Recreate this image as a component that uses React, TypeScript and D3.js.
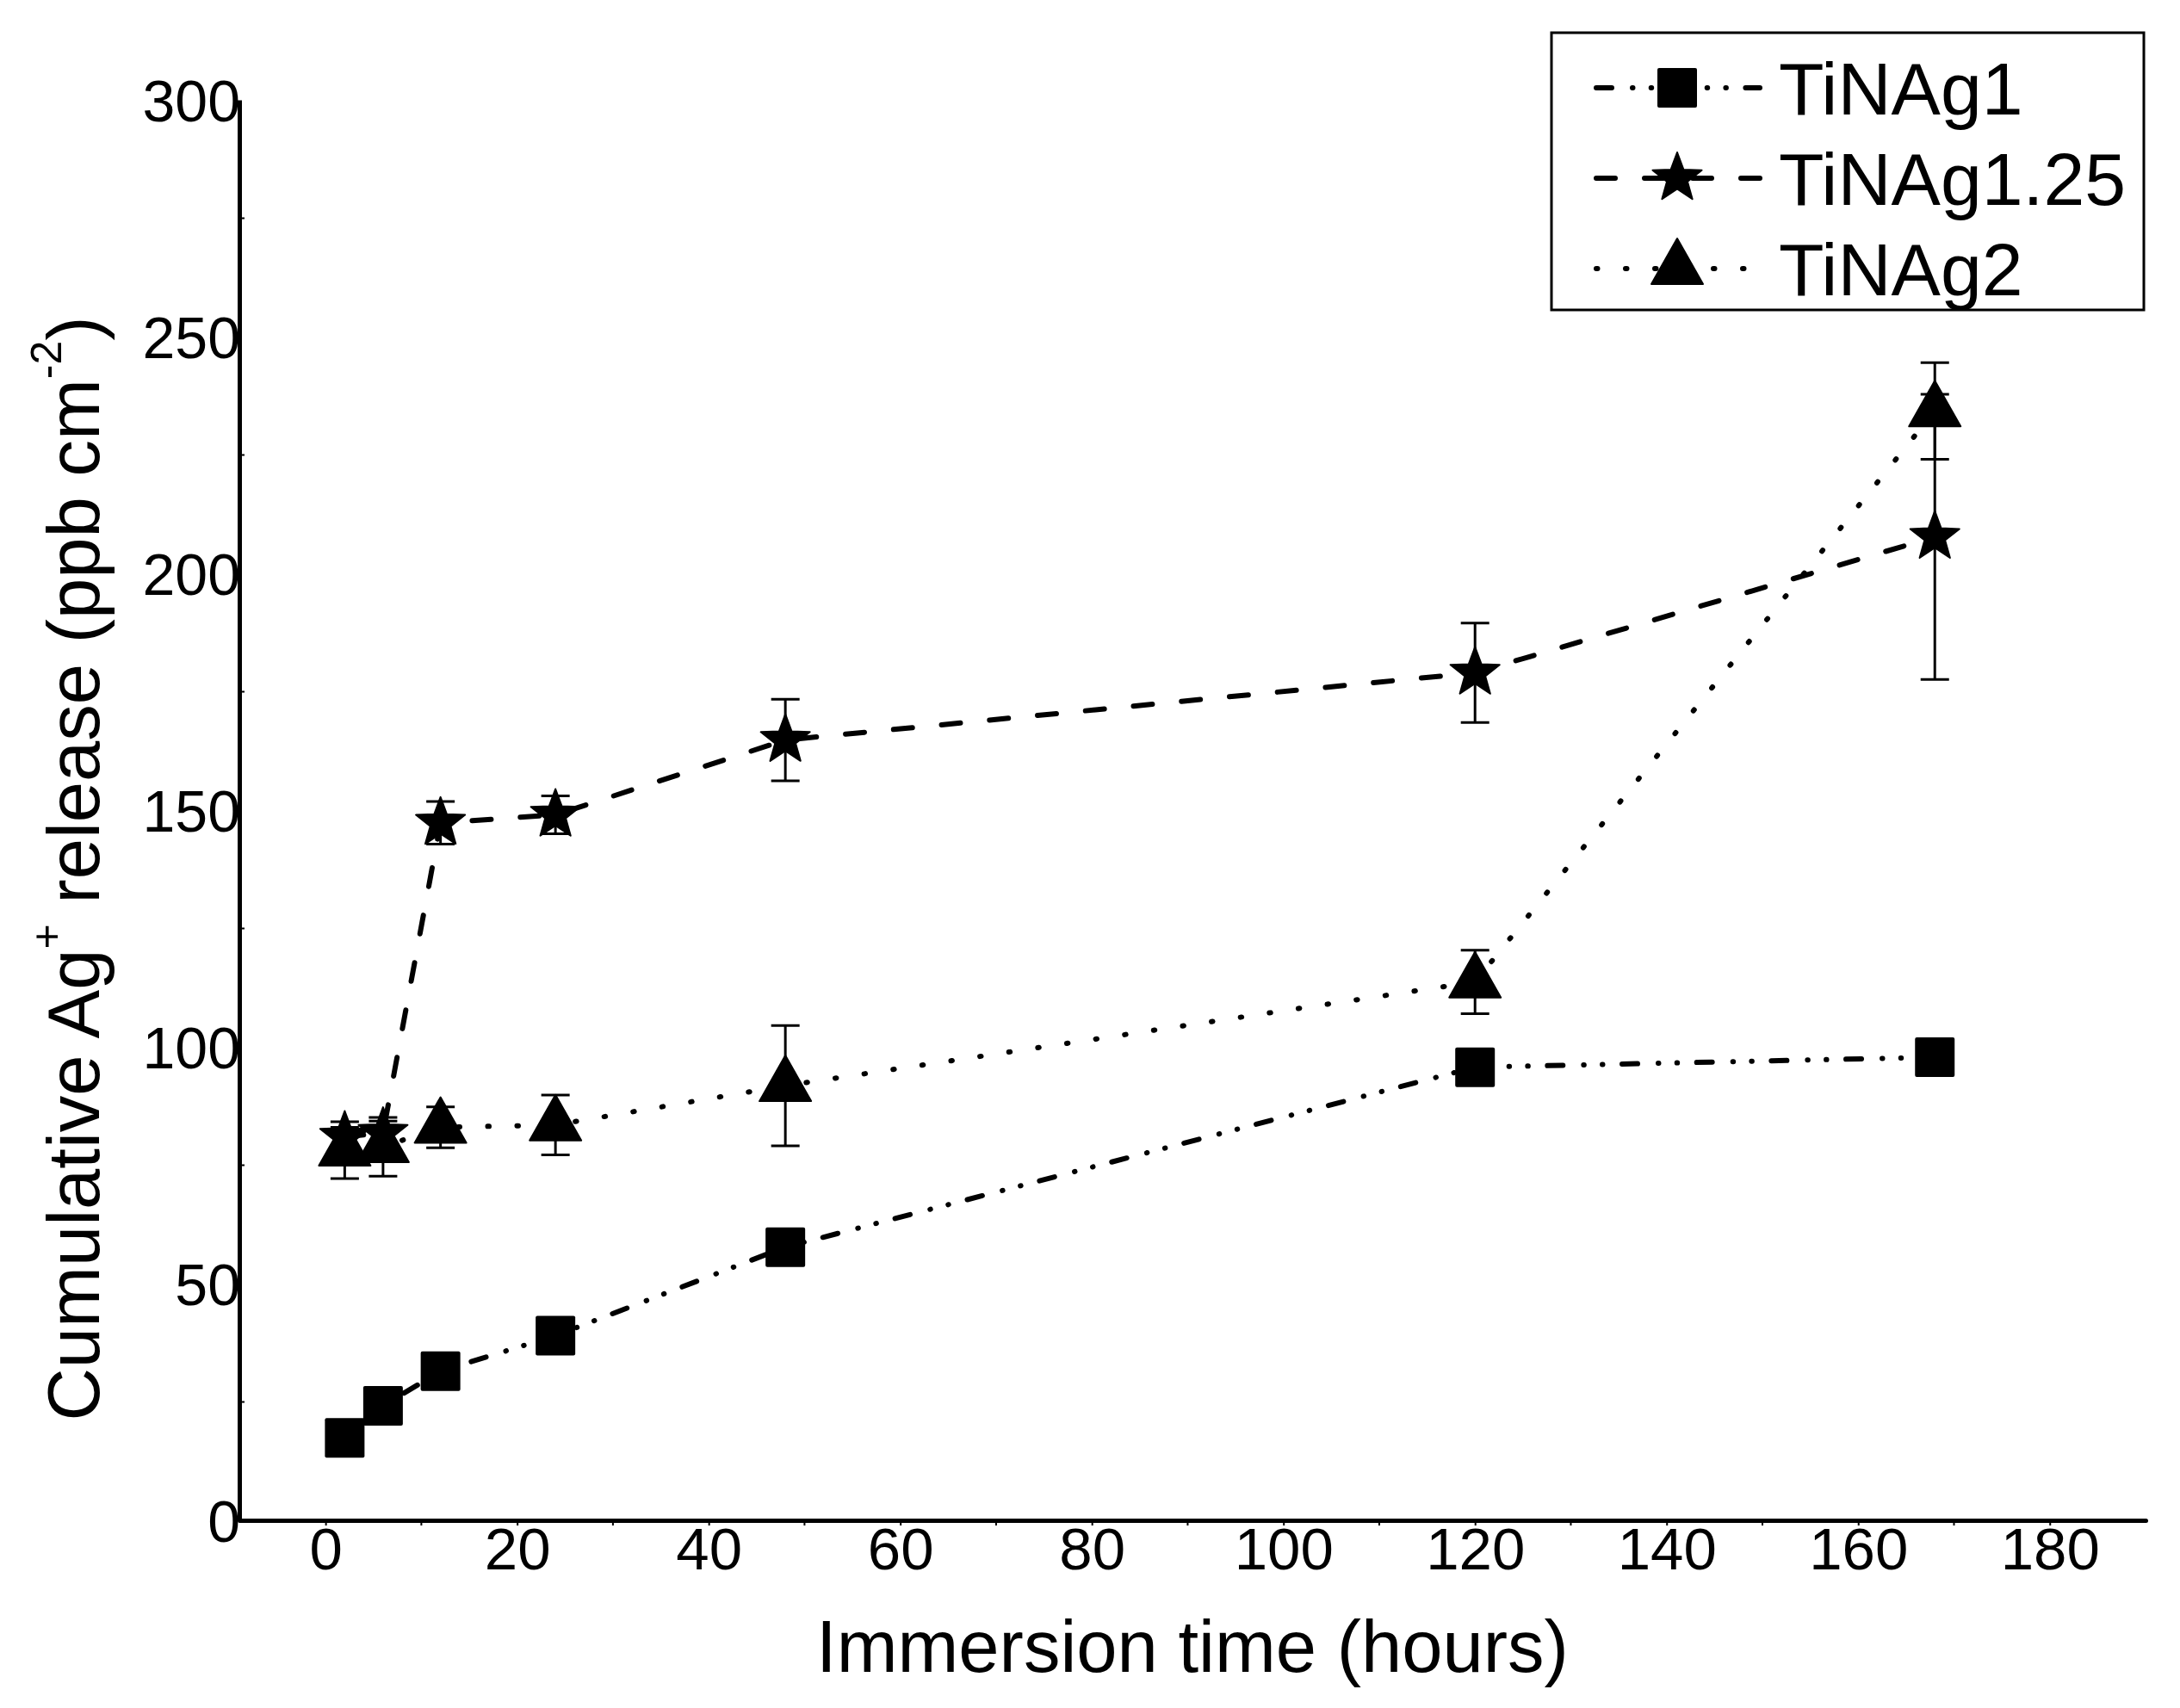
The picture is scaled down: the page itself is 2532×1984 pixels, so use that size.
import React, { useEffect, useRef } from "react";
import * as d3 from "d3";

// immersion times (hours) and the cumulative Ag+ release
const hours = [2, 6, 12, 24, 48, 120, 168];
const tinag1 = [17.4, 24.2, 31.5, 39, 57.7, 95.7, 97.8];
const tinag1Err = [1, 1.5, 1.5, 2, 2, 2.5, 2];
const tinag125 = [81, 81.8, 147.3, 149, 164.8, 179, 207.7];
const tinag125Err = [2, 2.5, 4.5, 4, 8.6, 10.5, 30.1];
const tinag2 = [78.2, 78.9, 83, 83.5, 91.8, 113.7, 234.3];
const tinag2Err = [6, 6.2, 4.3, 6.3, 12.7, 6.7, 10.2];

const seriesNames = ["TiNAg1", "TiNAg1.25", "TiNAg2"];
const xTicks = [0, 20, 40, 60, 80, 100, 120, 140, 160, 180];
const xMinorTicks = [10, 30, 50, 70, 90, 110, 130, 150, 170];
const yTicks = [0, 50, 100, 150, 200, 250, 300];
const yMinorTicks = [25, 75, 125, 175, 225, 275];

const W = 2532;
const H = 1984;
const FONT = "Arial, 'Liberation Sans', Helvetica, sans-serif";

function starPath(R: number, r: number) {
  const pts: [number, number][] = [];
  for (let i = 0; i < 10; i++) {
    const rad = i % 2 === 0 ? R : r;
    const a = -Math.PI / 2 + (i * Math.PI) / 5;
    pts.push([rad * Math.cos(a), rad * Math.sin(a)]);
  }
  return "M" + pts.map((p) => p[0].toFixed(2) + "," + p[1].toFixed(2)).join("L") + "Z";
}

// draws one marker centred on (0,0) inside g
function drawMarker(g: any, shape: string) {
  if (shape === "square") {
    g.append("rect")
      .attr("x", -23)
      .attr("y", -23)
      .attr("width", 46)
      .attr("height", 46)
      .attr("rx", 2)
      .attr("fill", "#000");
  } else if (shape === "star") {
    g.append("path")
      .attr("d", starPath(30, 12.5))
      .attr("fill", "#000")
      .attr("stroke", "#000")
      .attr("stroke-width", 2)
      .attr("stroke-linejoin", "round");
  } else {
    g.append("path")
      .attr("d", "M0,-35L-30,18L30,18Z")
      .attr("fill", "#000")
      .attr("stroke", "#000")
      .attr("stroke-width", 2)
      .attr("stroke-linejoin", "round");
  }
}

const App = () => {
  const ref = useRef<SVGSVGElement>(null);

  useEffect(() => {
    const svg = d3.select(ref.current);
    svg.selectAll("*").remove();

    const x = d3.scaleLinear().domain([-9, 190]).range([278, 2492]);
    const y = d3.scaleLinear().domain([0, 300]).range([1766, 116]);

    const series = [
      { name: seriesNames[0], values: tinag1, errs: tinag1Err, shape: "square", dash: "18,24,0.5,21.2,0.5,22.5" },
      { name: seriesNames[1], values: tinag125, errs: tinag125Err, shape: "star", dash: "22,34" },
      { name: seriesNames[2], values: tinag2, errs: tinag2Err, shape: "triangle", dash: "1.5,32.5" },
    ];

    svg.append("rect").attr("width", W).attr("height", H).attr("fill", "#fff");

    // axes
    const xAxis = svg
      .append("g")
      .attr("transform", "translate(0," + y(0) + ")")
      .call(d3.axisBottom(x).tickValues(xTicks).tickSize(6).tickSizeOuter(0));
    xAxis.select(".domain").attr("stroke", "#000").attr("stroke-width", 5).attr("stroke-linecap", "round");
    xAxis.selectAll(".tick line").attr("stroke", "#000").attr("stroke-width", 2);
    xAxis
      .selectAll(".tick text")
      .attr("y", 57)
      .attr("dy", 0)
      .attr("fill", "#000")
      .style("font-family", FONT)
      .style("font-size", "69px");
    xAxis
      .selectAll(".minor")
      .data(xMinorTicks)
      .join("line")
      .attr("x1", (d) => x(d))
      .attr("x2", (d) => x(d))
      .attr("y1", 0)
      .attr("y2", 6)
      .attr("stroke", "#000")
      .attr("stroke-width", 2);

    const yAxis = svg
      .append("g")
      .attr("transform", "translate(" + x(-9) + ",0)")
      .call(d3.axisLeft(y).tickValues(yTicks).tickSize(0).tickSizeOuter(0));
    yAxis.select(".domain").attr("stroke", "#000").attr("stroke-width", 5);
    yAxis
      .selectAll(".tick text")
      .attr("x", 1)
      .attr("dy", "0.36em")
      .attr("fill", "#000")
      .style("font-family", FONT)
      .style("font-size", "68px");
    yAxis
      .selectAll(".minor")
      .data(yMinorTicks)
      .join("line")
      .attr("x1", 0)
      .attr("x2", 6)
      .attr("y1", (d) => y(d))
      .attr("y2", (d) => y(d))
      .attr("stroke", "#000")
      .attr("stroke-width", 2);

    // axis titles
    svg
      .append("text")
      .attr("x", (x(-9) + x(190)) / 2)
      .attr("y", 1942)
      .attr("text-anchor", "middle")
      .style("font-family", FONT)
      .style("font-size", "85px")
      .text("Immersion time (hours)");

    const yt = svg
      .append("text")
      .attr("transform", "translate(115,1009) rotate(-90)")
      .attr("text-anchor", "middle")
      .style("font-family", FONT)
      .style("font-size", "85px")
      .style("white-space", "pre");
    yt.append("tspan").text("Cumulative Ag");
    yt.append("tspan").attr("dy", -44).style("font-size", "50px").text("+");
    yt.append("tspan").attr("dy", 44).text(" release (ppb cm");
    yt.append("tspan").attr("dy", -44).style("font-size", "50px").text("-2");
    yt.append("tspan").attr("dy", 44).text(")");

    // connecting lines
    const line = d3
      .line<number>()
      .x((d, i) => x(hours[i]))
      .y((d) => y(d));
    series.forEach((s) => {
      svg
        .append("path")
        .attr("d", line(s.values))
        .attr("fill", "none")
        .attr("stroke", "#000")
        .attr("stroke-width", 6)
        .attr("stroke-linecap", "round")
        .attr("stroke-dasharray", s.dash);
    });

    // error bars
    series.forEach((s) => {
      const eg = svg.append("g").attr("stroke", "#000").attr("stroke-width", 3);
      s.values.forEach((v, i) => {
        const cx = x(hours[i]);
        const lo = y(v - s.errs[i]);
        const hi = y(v + s.errs[i]);
        eg.append("line").attr("x1", cx).attr("x2", cx).attr("y1", lo).attr("y2", hi);
        eg.append("line").attr("x1", cx - 16.5).attr("x2", cx + 16.5).attr("y1", lo).attr("y2", lo);
        eg.append("line").attr("x1", cx - 16.5).attr("x2", cx + 16.5).attr("y1", hi).attr("y2", hi);
      });
    });

    // markers
    series.forEach((s) => {
      s.values.forEach((v, i) => {
        const mg = svg.append("g").attr("transform", "translate(" + x(hours[i]) + "," + y(v) + ")");
        drawMarker(mg, s.shape);
      });
    });

    // legend
    const legend = svg.append("g");
    legend
      .append("rect")
      .attr("x", 1802)
      .attr("y", 38)
      .attr("width", 688)
      .attr("height", 322)
      .attr("fill", "#fff")
      .attr("stroke", "#000")
      .attr("stroke-width", 3);
    const rowY = [102, 207, 312];
    series.forEach((s, i) => {
      const ly = rowY[i];
      legend
        .append("line")
        .attr("x1", 1854)
        .attr("x2", 2044)
        .attr("y1", ly)
        .attr("y2", ly)
        .attr("stroke", "#000")
        .attr("stroke-width", 6)
        .attr("stroke-linecap", "round")
        .attr("stroke-dasharray", s.dash);
      const mg = legend.append("g").attr("transform", "translate(1948," + ly + ")");
      drawMarker(mg, s.shape);
      legend
        .append("text")
        .attr("x", 2066)
        .attr("y", ly + 31)
        .style("font-family", FONT)
        .style("font-size", "86px")
        .text(s.name);
    });
  }, []);

  return (
    <svg
      ref={ref}
      width={W}
      height={H}
      viewBox={`0 0 ${W} ${H}`}
      style={{ position: "absolute", left: 0, top: 0, background: "#fff" }}
    ></svg>
  );
};

export default App;
